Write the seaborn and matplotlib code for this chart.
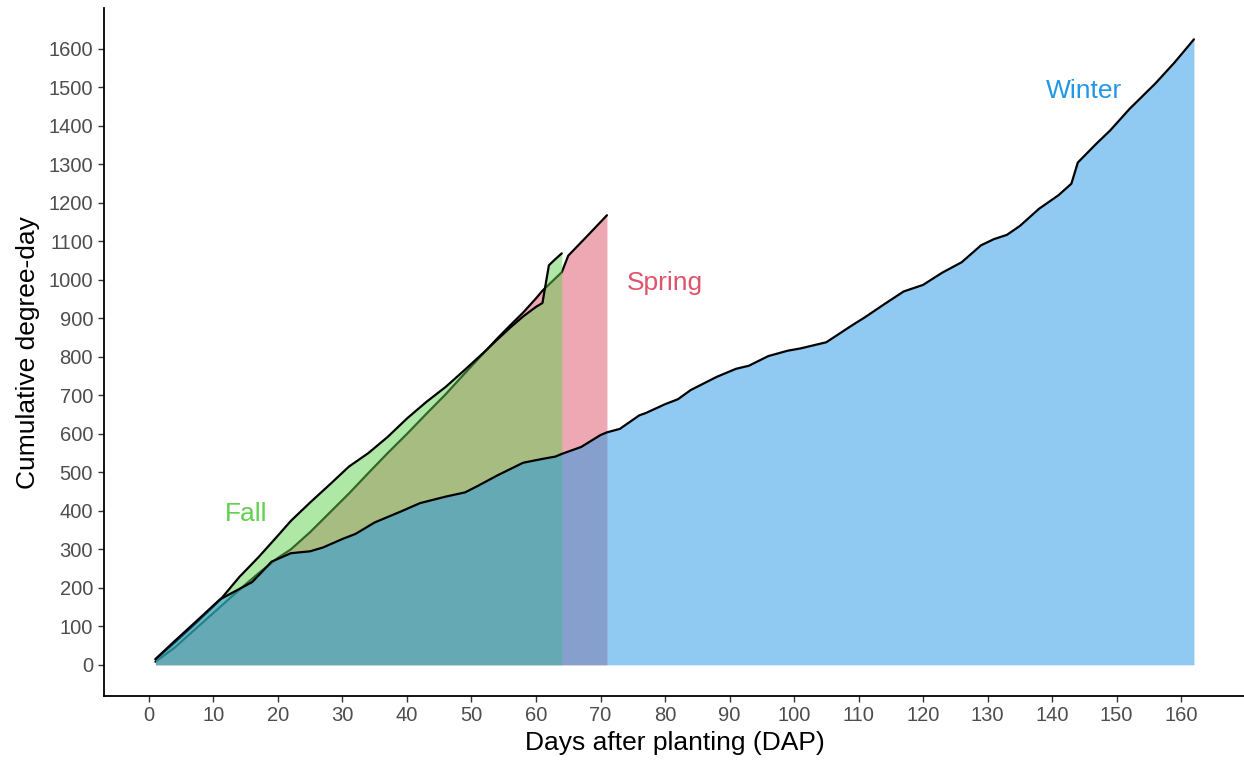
import matplotlib
matplotlib.use("Agg")
import matplotlib.pyplot as plt
import seaborn as sns
import pandas as pd

# Cumulative degree-days by days after planting, one series per planting season
spring_days = [1, 4, 7, 11, 14, 17, 20, 22, 25, 28, 31, 34, 37, 40, 43, 46, 49,
               52, 54, 56, 58, 60, 61, 62, 63, 64, 65, 68, 71]
spring_gdd = [8, 45, 90, 150, 195, 238, 278, 300, 345, 395, 445, 498, 550, 600,
              652, 703, 758, 812, 848, 882, 915, 952, 972, 988, 1004, 1020, 1063,
              1115, 1168]

fall_days = [1, 4, 7, 11, 14, 17, 20, 22, 25, 28, 31, 34, 37, 40, 43, 46, 49,
             52, 54, 56, 58, 60, 61, 62, 63, 64]
fall_gdd = [14, 58, 104, 168, 228, 280, 336, 374, 422, 468, 515, 550, 592, 640,
            683, 722, 767, 813, 845, 876, 905, 930, 940, 1038, 1054, 1069]

winter_days = [1, 4, 7, 11, 13, 16, 18, 19, 22, 25, 27, 30, 32, 35, 39, 42, 46,
               49, 51, 54, 58, 61, 63, 64, 67, 70, 71, 73, 76, 77, 80, 82, 84, 88,
               91, 93, 96, 99, 101, 103, 105, 109, 111, 114, 117, 120, 123, 126,
               129, 131, 133, 135, 138, 141, 143, 144, 147, 149, 152, 156, 159, 162]
winter_gdd = [15, 62, 108, 170, 188, 215, 250, 268, 290, 295, 305, 327, 340, 370,
              398, 420, 437, 448, 465, 492, 525, 535, 541, 548, 566, 597, 604, 613,
              648, 654, 677, 690, 714, 748, 769, 777, 802, 816, 822, 830, 838, 882,
              903, 937, 970, 987, 1019, 1046, 1090, 1106, 1117, 1140, 1185, 1220,
              1250, 1305, 1356, 1388, 1444, 1510, 1565, 1625]

seasons = ["Spring", "Fall", "Winter"]          # drawing order
season_colors = {"Fall": "#61D04F", "Spring": "#DF536B", "Winter": "#2297E6"}
label_pos = {"Fall": (15, 392), "Spring": (80, 992), "Winter": (145, 1490)}

x_ticks = list(range(0, 161, 10))
y_ticks = list(range(0, 1601, 100))

frames = {
    "Spring": pd.DataFrame({"DAP": spring_days, "GDD": spring_gdd}),
    "Fall": pd.DataFrame({"DAP": fall_days, "GDD": fall_gdd}),
    "Winter": pd.DataFrame({"DAP": winter_days, "GDD": winter_gdd}),
}

sns.set_theme(style="ticks")
plt.rcParams["font.family"] = ["Liberation Sans", "DejaVu Sans"]

fig = plt.figure(figsize=(12.44, 7.63), dpi=100)
ax = fig.add_axes([0.0832, 0.0878, 0.9183, 0.9015])

for s in seasons:
    df = frames[s]
    ax.fill_between(df["DAP"], 0, df["GDD"], color=season_colors[s], alpha=0.5,
                    linewidth=0, zorder=2)
    sns.lineplot(data=df, x="DAP", y="GDD", color="black", linewidth=1.6,
                 estimator=None, sort=False, ax=ax, zorder=2)

for s in seasons:
    x, y = label_pos[s]
    ax.text(x, y, s, color=season_colors[s], fontsize=19, ha="center", va="center")

ax.set_xlim(-7.05, 170.05)
ax.set_ylim(-81, 1706)
ax.set_xticks(x_ticks)
ax.set_yticks(y_ticks)
ax.tick_params(axis="both", length=4.5, width=1.0, color="#333333",
               labelsize=14.5, labelcolor="#4D4D4D", pad=3)
ax.set_xlabel("Days after planting (DAP)", fontsize=19, color="black", labelpad=4)
ax.set_ylabel("Cumulative degree-day", fontsize=19, color="black", labelpad=6)

for side in ["top", "right"]:
    ax.spines[side].set_visible(False)
for side in ["left", "bottom"]:
    ax.spines[side].set_linewidth(1.3)
    ax.spines[side].set_color("black")

fig.savefig("out.png", dpi=100)
